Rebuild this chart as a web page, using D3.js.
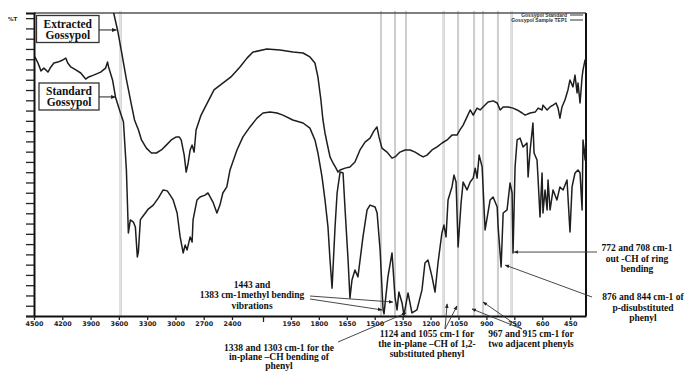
<!DOCTYPE html>
<html><head><meta charset="utf-8">
<script src="https://cdn.jsdelivr.net/npm/d3@7"></script>
<style>body{margin:0;background:#fff}svg{display:block}</style>
</head><body><svg id="c" width="688" height="373"></svg>
<script>
// ---------------- DATA ----------------
const xTickLabels = [4500,4200,3900,3600,3300,3000,2700,2400,1950,1800,1650,1500,1350,1200,1050,900,750,600,450];
const xTickUnlabeled = [2100];
const seriesNames = ["Standard Gossypol","Extracted Gossypol"];
const legendNames = ["Gossypol Standard","Gossypol Sample TEP1"];

const standardWn = [4490,4458,4426,4395,4352,4321,4289,4247,4194,4163,4142,4110,4057,4004,3952,3920,3868,3793,3741,3720,3709,3667,3636,3593,3551,3520,3499,3478,3446,3425,3404,3393,3372,3351,3319,3288,3235,3182,3130,3087,3056,3024,2982,2950,2918,2897,2876,2844,2823,2813,2771,2739,2686,2655,2602,2560,2528,2497,2455,2421,2352,2294,2226,2158,2100,2062,2025,1993,1940,1885,1848,1821,1805,1783,1767,1751,1740,1729,1713,1702,1686,1670,1659,1643,1633,1622,1606,1590,1563,1541,1525,1498,1487,1471,1455,1450,1429,1407,1391,1380,1370,1353,1343,1321,1300,1273,1246,1230,1214,1192,1176,1160,1139,1128,1117,1106,1085,1074,1063,1052,1036,1025,1004,987,971,960,950,939,923,907,880,864,842,837,821,810,789,773,762,757,746,735,719,703,682,676,665,650,644,628,623,612,601,596,585,574,569,558,542,521,505,488,467,451,440,424,408,397,386,381,370,365];
const standardT = [85.5,83.5,80.9,81.8,80.5,82.2,83.5,83.8,84.5,85.1,83.5,82.2,81.2,80.2,78.2,78.9,79.5,80.5,81.8,83.8,82.2,77.9,72.3,68,64,48.2,27.4,31.7,31,29.4,19.5,21.1,31.7,32.7,34,35.3,36.6,38.9,41.6,41.3,39.9,38.3,34,26.1,20.8,23.4,21.8,26.1,24.4,31.7,38.3,39.3,39.9,40.6,37.6,34,36.6,40.6,42.6,48.2,54.8,59.1,62.4,65.3,67,67.3,67,66.3,64.7,63.7,62,58.1,53.8,45.9,38.3,29.4,18.5,9.2,29.4,40.6,47.5,47.2,35,18.5,5.9,11.9,15.2,12.9,26.1,35,36.6,36,34,21.8,2,0.7,12.9,20.8,6.3,2,7.9,4.3,0.3,7.6,1,2,8.6,17.5,18.5,12.9,7.9,17.5,27.4,30,26.1,38.3,42.6,46.5,44.2,22.8,37.3,44.2,41.6,44.2,45.5,48.8,45.5,53.1,49.2,28.4,38.3,39.3,36,29.4,16.2,34,35,43.9,40.6,20.8,49.2,58.1,58.7,55.8,57.1,45.9,54.8,63.7,53.8,51.5,45.9,32.7,47.2,34,41.6,35,44.9,35,41.6,38.3,42.6,41.6,44.9,27.7,42.6,47.2,48.2,47.2,35,58.1,51.5,59.1];

const extractedWn = [3677,3655,3614,3571,3519,3466,3434,3392,3360,3308,3255,3202,3149,3097,3044,2991,2960,2939,2907,2886,2865,2844,2823,2802,2781,2728,2591,2411,2323,2255,2197,2079,2009,1939,1885,1848,1821,1805,1789,1778,1767,1756,1740,1724,1708,1697,1686,1659,1633,1606,1579,1552,1525,1504,1488,1477,1461,1434,1407,1391,1364,1337,1310,1283,1257,1240,1219,1192,1165,1138,1111,1085,1058,1042,1025,1004,987,971,950,934,918,891,864,842,826,810,783,757,735,708,692,665,638,622,601,596,574,558,542,526,515,505,494,478,462,451,435,424,413,408,397,386,381,370,365];
const extractedT = [102.6,100,94.4,87.1,77.9,69.6,64.7,61.4,58.1,55.4,53.8,53.8,54.8,56.4,58.1,59.1,59.1,58.1,53.1,47.5,50.5,54.8,56.4,54.1,61.4,66.3,74.6,78.9,82.2,85.1,87.1,88.1,87.8,87.1,86.8,85.5,83.5,78.9,71.3,64.7,60.4,57.1,52.5,50.5,48.8,47.5,48.2,48.8,49.2,50.8,54.8,57.4,58.7,61.1,62.4,59.1,55.4,54.1,52.1,52.5,54.1,54.8,54.8,54.1,53.1,52.5,53.1,54.8,55.8,57.1,58.1,59.7,59.7,61.4,63,65.7,68,66.3,68.6,68,69,70.6,71,70.3,68,69,69,68.6,68,67,66.3,67,67.3,68.6,68,69.6,68,69,69.6,70.3,68.6,65.3,69,71.3,74.6,77.9,75.6,79.5,73.6,76.9,70.3,78.9,81.2,84.5,83.5];

const markerWn = [3582,1466,1391,1332,1130,1052,966,918,838,765];

// annotation texts and their target points (wavenumber, %T)
const annoLines = [
  ["1443 and","1383 cm-1methyl bending","vibrations"],
  ["1338 and 1303 cm-1 for the","in-plane \u2013CH bending of","phenyl"],
  ["1124 and 1055 cm-1 for","the in-plane \u2013CH of 1,2-","substituted phenyl"],
  ["967 and 915 cm-1 for","two adjacent phenyls"],
  ["876 and 844 cm-1 of","p-disubstituted","phenyl"],
  ["772 and 708 cm-1","out -CH of ring","bending"]
];
const annoTargets = [
  [[1402,4.6],[1461,2]],
  [[1332,1]],
  [[1111,4],[1058,3.3]],
  [[918,4.6],[977,2.3]],
  [[799,16.8]],
  [[751,21.1]]
];
const labelTargets = [[3635,72.3],[3625,94.4]]; // Standard, Extracted

// ---------------- LAYOUT ----------------
const P = {left:34, right:586, top:13, bottom:316};
const annoLayout = [
  {x:252, y:288, dy:10.3, from:[[310,296],[310,299]]},
  {x:279, y:350.5, dy:9.4, from:[[338,342]]},
  {x:427, y:336.5, dy:10.3, from:[[445,329],[445,329]]},
  {x:531, y:336.5, dy:10.8, from:[[522,329],[522,329]]},
  {x:643, y:300, dy:10.5, from:[[592,297]]},
  {x:637, y:251, dy:10.5, from:[[597,252]]}
];
const boxLayout = [
  {x:39, y:83, w:60, h:27},   // Standard
  {x:36.5, y:15.5, w:62.5, h:27} // Extracted
];

const svg = d3.select("#c");
const x = d3.scaleLinear().domain([4500,2400,2100,365]).range([34,232,263,586]);
const y = d3.scaleLinear().domain([0,100]).range([P.bottom,P.top]);

const defs = svg.append("defs");
defs.append("clipPath").attr("id","clip").append("rect")
  .attr("x",P.left).attr("y",P.top).attr("width",P.right-P.left).attr("height",P.bottom-P.top);
defs.append("marker").attr("id","ah").attr("viewBox","0 0 10 10").attr("refX",9).attr("refY",5)
  .attr("markerWidth",5).attr("markerHeight",5).attr("orient","auto")
  .append("path").attr("d","M0,1L10,5L0,9z").attr("fill","#222");

// vertical marker lines
const ml = svg.append("g");
ml.selectAll("line.a").data(markerWn).join("line")
  .attr("x1",d=>x(d)).attr("x2",d=>x(d)).attr("y1",P.top-2).attr("y2",P.bottom)
  .attr("stroke","#b8b8b8").attr("stroke-width",2);
ml.selectAll("line.b").data(markerWn).join("line")
  .attr("x1",d=>x(d)).attr("x2",d=>x(d)).attr("y1",P.top-2).attr("y2",P.bottom)
  .attr("stroke","#ededed").attr("stroke-width",0.8);

// frame top and right
svg.append("line").attr("x1",P.left).attr("x2",P.right).attr("y1",P.top).attr("y2",P.top)
  .attr("stroke","#555").attr("stroke-width",1.5);
svg.append("line").attr("x1",P.right).attr("x2",P.right).attr("y1",P.top).attr("y2",P.bottom)
  .attr("stroke","#111").attr("stroke-width",2);

// curves
const line = d3.line().x(d=>x(d[0])).y(d=>y(d[1])).curve(d3.curveLinear);
const sData = standardWn.map((w,i)=>[w,standardT[i]]);
const eData = extractedWn.map((w,i)=>[w,extractedT[i]]);
const cg = svg.append("g").attr("clip-path","url(#clip)");
[sData,eData].forEach(d=>{
  cg.append("path").datum(d).attr("d",line).attr("fill","none")
    .attr("stroke","#1e1e1e").attr("stroke-width",1.5).attr("stroke-linejoin","round");
});

// axes
const yTicks = d3.range(0,30).map(i=>i*100/29.5);
const ya = svg.append("g").attr("transform",`translate(${P.left},0)`)
  .call(d3.axisLeft(y).tickValues(yTicks).tickSize(8).tickFormat(""));
ya.select(".domain").attr("stroke","#111").attr("stroke-width",2);
ya.selectAll(".tick line").attr("stroke","#222").attr("stroke-width",1.3);

const allX = xTickLabels.concat(xTickUnlabeled);
const xa = svg.append("g").attr("transform",`translate(0,${P.bottom})`)
  .call(d3.axisBottom(x).tickValues(allX).tickSize(4).tickSizeOuter(0)
    .tickFormat(d=>xTickUnlabeled.includes(d)?"":d));
xa.select(".domain").attr("stroke","#111").attr("stroke-width",2);
xa.selectAll(".tick line").attr("stroke","#222").attr("stroke-width",1.3);
xa.selectAll(".tick").filter(d=>xTickUnlabeled.includes(d)).select("line").attr("y2",6);
xa.selectAll(".tick text").attr("y",5).attr("font-family","DejaVu Sans").attr("font-weight","bold")
  .attr("font-size",6.4).attr("fill","#222");

svg.append("text").attr("x",8).attr("y",21).text("%T")
  .attr("font-family","DejaVu Sans").attr("font-weight","bold").attr("font-size",5.5).attr("fill","#222");

// legend (top right)
legendNames.forEach((n,i)=>{
  const yy = 15 + i*5;
  svg.append("text").attr("x",567).attr("y",yy+2).attr("text-anchor","end").text(n)
    .attr("font-family","Liberation Sans").attr("font-weight","bold").attr("font-size",5).attr("fill","#333");
  svg.append("line").attr("x1",570).attr("x2",583).attr("y1",yy).attr("y2",yy)
    .attr("stroke","#333").attr("stroke-width",1);
});

// series label boxes
const serif = "Liberation Serif";
seriesNames.forEach((n,i)=>{
  const b = boxLayout[i];
  svg.append("rect").attr("x",b.x).attr("y",b.y).attr("width",b.w).attr("height",b.h)
    .attr("fill","#fff").attr("stroke","#333").attr("stroke-width",1.3);
  const parts = n.split(" ");
  parts.forEach((p,j)=>{
    svg.append("text").attr("x",b.x+b.w/2).attr("y",b.y+12+j*11).attr("text-anchor","middle").text(p)
      .attr("font-family",serif).attr("font-weight","bold").attr("font-size",11.5).attr("fill","#111");
  });
  const t = labelTargets[i];
  svg.append("line").attr("x1",b.x+b.w).attr("y1",y(t[1])).attr("x2",x(t[0])).attr("y2",y(t[1]))
    .attr("stroke","#222").attr("stroke-width",1).attr("marker-end","url(#ah)");
});

// annotations
annoLines.forEach((lines,i)=>{
  const L = annoLayout[i];
  annoTargets[i].forEach((t,k)=>{
    const f = L.from[k] || L.from[0];
    svg.append("line").attr("x1",f[0]).attr("y1",f[1]).attr("x2",x(t[0])).attr("y2",y(t[1]))
      .attr("stroke","#333").attr("stroke-width",0.9).attr("marker-end","url(#ah)");
  });
  lines.forEach((s,j)=>{
    svg.append("text").attr("x",L.x).attr("y",L.y+j*L.dy).attr("text-anchor","middle").text(s)
      .attr("font-family",serif).attr("font-weight","bold").attr("font-size",9.5).attr("fill","#111");
  });
});
</script></body></html>
